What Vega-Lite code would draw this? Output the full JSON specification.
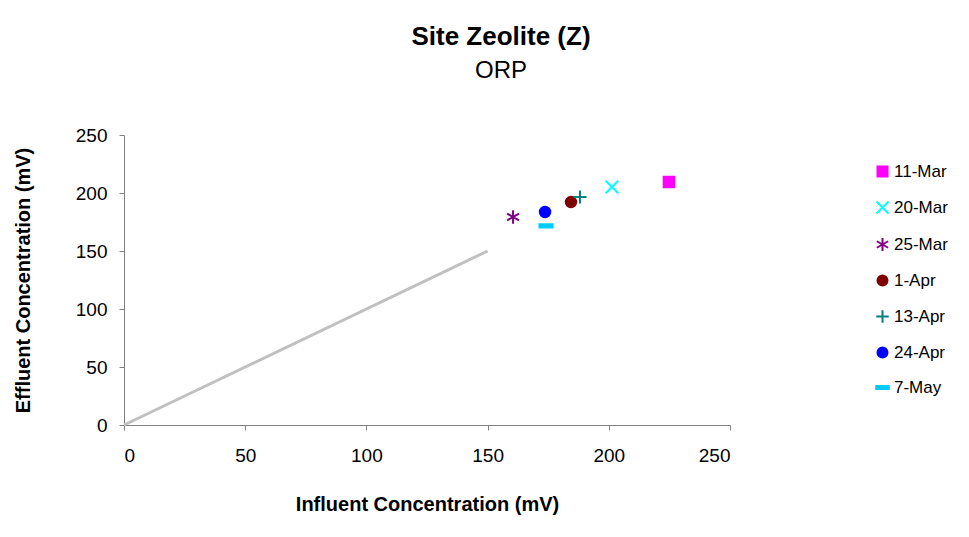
{
  "$schema": "https://vega.github.io/schema/vega-lite/v6.json",
  "autosize": "none",
  "width": 606,
  "height": 290,
  "padding": {"left": 124, "top": 135, "right": 239, "bottom": 112},
  "background": "white",
  "config": {
    "font": "Liberation Sans",
    "view": {"stroke": null}
  },
  "title": {
    "text": "Site Zeolite (Z)",
    "subtitle": "ORP",
    "anchor": "middle",
    "dx": 74,
    "offset": 43,
    "fontSize": 26,
    "fontWeight": "bold",
    "color": "black",
    "subtitleFontSize": 24,
    "subtitleColor": "black",
    "subtitlePadding": 9
  },
  "datasets": {
    "points": [
      {"date": "11-Mar", "influent": 224.8, "effluent": 209.5},
      {"date": "20-Mar", "influent": 201.3, "effluent": 205.2},
      {"date": "25-Mar", "influent": 160.5, "effluent": 179.3},
      {"date": "1-Apr", "influent": 184.4, "effluent": 192.2},
      {"date": "13-Apr", "influent": 188.1, "effluent": 196.6},
      {"date": "24-Apr", "influent": 173.7, "effluent": 183.6},
      {"date": "7-May", "influent": 174.1, "effluent": 171.6}
    ],
    "line": [
      {"influent": 0, "effluent": 0},
      {"influent": 150, "effluent": 150}
    ]
  },
  "layer": [
    {
      "data": {"name": "line"},
      "mark": {"type": "line", "color": "#C0C0C0", "strokeWidth": 3},
      "encoding": {
        "x": {"field": "influent", "type": "quantitative"},
        "y": {"field": "effluent", "type": "quantitative"}
      }
    },
    {
      "data": {"name": "points"},
      "mark": {"type": "point", "filled": true, "size": 110, "strokeWidth": 2, "opacity": 1},
      "encoding": {
        "x": {
          "field": "influent",
          "type": "quantitative",
          "scale": {"domain": [0, 250], "nice": false},
          "axis": {
            "title": "Influent Concentration (mV)",
            "values": [0, 50, 100, 150, 200, 250],
            "grid": false,
            "domainColor": "#808080",
            "tickColor": "#808080",
            "tickSize": 5,
            "labelFontSize": 19,
            "labelColor": "black",
            "labelPadding": 16,
            "titleFontSize": 20,
            "titleFontWeight": "bold",
            "titleColor": "black",
            "titlePadding": 29
          }
        },
        "y": {
          "field": "effluent",
          "type": "quantitative",
          "scale": {"domain": [0, 250], "nice": false},
          "axis": {
            "title": "Effluent Concentration (mV)",
            "values": [0, 50, 100, 150, 200, 250],
            "grid": false,
            "domainColor": "#808080",
            "tickColor": "#808080",
            "tickSize": 5,
            "labelFontSize": 19,
            "labelColor": "black",
            "labelPadding": 12,
            "titleFontSize": 20,
            "titleFontWeight": "bold",
            "titleColor": "black",
            "titleX": -91
          }
        },
        "fill": {
          "field": "date",
          "type": "nominal",
          "scale": {
            "domain": ["11-Mar", "20-Mar", "25-Mar", "1-Apr", "13-Apr", "24-Apr", "7-May"],
            "range": ["#FF00FF", "#00FFFF", "#800080", "#800000", "#008080", "#0000FF", "#00CCFF"]
          },
          "legend": {
            "title": null,
            "orient": "none",
            "legendX": 750,
            "legendY": 28,
            "labelFontSize": 17,
            "labelColor": "black",
            "rowPadding": 16,
            "symbolSize": 100,
            "symbolStrokeWidth": 2,
            "labelOffset": 3
          }
        },
        "stroke": {
          "field": "date",
          "type": "nominal",
          "scale": {
            "domain": ["11-Mar", "20-Mar", "25-Mar", "1-Apr", "13-Apr", "24-Apr", "7-May"],
            "range": ["#FF00FF", "#00FFFF", "#800080", "#800000", "#008080", "#0000FF", "#00CCFF"]
          },
          "legend": {
            "title": null,
            "orient": "none",
            "legendX": 750,
            "legendY": 28,
            "labelFontSize": 17,
            "labelColor": "black",
            "rowPadding": 16,
            "symbolSize": 100,
            "symbolStrokeWidth": 2,
            "labelOffset": 3
          }
        },
        "shape": {
          "field": "date",
          "type": "nominal",
          "scale": {
            "domain": ["11-Mar", "20-Mar", "25-Mar", "1-Apr", "13-Apr", "24-Apr", "7-May"],
            "range": [
              "square",
              "M-1.2,-1.2L1.2,1.2M-1.2,1.2L1.2,-1.2",
              "M0,-1.3V1.3M-1.13,-0.65L1.13,0.65M-1.13,0.65L1.13,-0.65",
              "circle",
              "M0,-1.25V1.25M-1.25,0H1.25",
              "circle",
              "M-1.25,-0.3H1.25V0.3H-1.25Z"
            ]
          },
          "legend": {
            "title": null,
            "orient": "none",
            "legendX": 750,
            "legendY": 28,
            "labelFontSize": 17,
            "labelColor": "black",
            "rowPadding": 16,
            "symbolSize": 100,
            "symbolStrokeWidth": 2,
            "labelOffset": 3
          }
        }
      }
    }
  ]
}
